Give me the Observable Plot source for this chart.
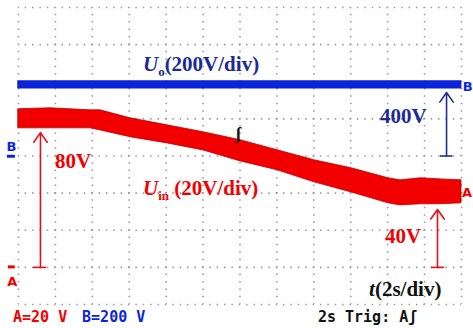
<!DOCTYPE html>
<html><head><meta charset="utf-8">
<script src="https://cdn.jsdelivr.net/npm/d3@7"></script>
<script src="https://cdn.jsdelivr.net/npm/@observablehq/plot@0.6"></script>
<style>body{margin:0;background:#fff}svg{display:block}</style>
</head><body><div id="chart"></div>
<script>
// Oscilloscope settings
const timeTicks = [0,2,4,6,8,10,12,14,16,18,20,22,24]; // seconds, 2 s/div
const divTicks = [0,1,2,3,4,5,6,7,8];                   // vertical divisions
const chAGround = 1;   // div (channel A, Uin)
const chBGround = 4;   // div (channel B, Uo)
const chAScale = 20;   // V/div
const chBScale = 200;  // V/div

// Channel A: Uin envelope (V)
const uinTime  = [0, 1.73, 3.9, 4.44, 6.07, 8.07, 10.02, 12.03, 14.03, 16.03, 18.04, 20.04, 20.69, 21.8, 22.9, 24];
const uinUpper = [85.2, 85.7, 84.6, 84.6, 80.3, 76.5, 72.8, 68.5, 63.1, 57.7, 53.4, 48.0, 46.9, 48.0, 47.4, 46.9];
const uinLower = [74.9, 74.9, 74.9, 73.8, 70.1, 66.8, 63.0, 57.1, 52.3, 45.8, 40.4, 34.5, 33.4, 34.0, 34.0, 34.5];

// Channel B: Uo envelope (V)
const uoTime  = [0, 24];
const uoUpper = [403, 403];
const uoLower = [363, 363];

const uin = uinTime.map((t,i) => ({t, hi: uinUpper[i]/chAScale + chAGround, lo: uinLower[i]/chAScale + chAGround}));
const uo  = uoTime.map((t,i) => ({t, hi: uoUpper[i]/chBScale + chBGround, lo: uoLower[i]/chBScale + chBGround}));

const RED = "#f20000", BLUE = "#0b24e0", NAVY = "#1b2a96";

const chart = Plot.plot({
  width: 473, height: 328,
  marginLeft: 18, marginRight: 12, marginTop: 7, marginBottom: 24,
  x: {domain: [0, 24], axis: null},
  y: {domain: [0, 8], axis: null},
  marks: [
    Plot.ruleX(timeTicks, {x: d => d, y1: 0, y2: 8, stroke: "#9a9a9a", strokeWidth: 1.6, strokeDasharray: "1.5 5.925", strokeDashoffset: 0.75}),
    Plot.ruleY(divTicks, {y: d => d, x1: 0, x2: 24, stroke: "#9a9a9a", strokeWidth: 1.6, strokeDasharray: "1.5 5.883", strokeDashoffset: 0.75}),
    Plot.areaY(uo, {x: "t", y1: "lo", y2: "hi", fill: BLUE, stroke: "#0a1fb8", strokeWidth: 0.8, curve: "linear"}),
    Plot.areaY(uin, {x: "t", y1: "lo", y2: "hi", fill: RED, stroke: "#b80000", strokeWidth: 0.8, curve: "linear"}),
    // annotation arrows
    Plot.arrow([{}], {x1: 1.19, x2: 1.19, y1: chAGround, y2: 4.63, stroke: "#e8101a", strokeWidth: 1.6, headLength: 11, headAngle: 70}),
    Plot.ruleY([chAGround], {x1: 0.81, x2: 1.52, stroke: "#e8101a", strokeWidth: 1.6}),
    Plot.arrow([{}], {x1: 22.7, x2: 22.7, y1: chAGround, y2: 2.56, stroke: "#e8101a", strokeWidth: 1.6, headLength: 11, headAngle: 70}),
    Plot.ruleY([chAGround], {x1: 22.37, x2: 23.08, stroke: "#e8101a", strokeWidth: 1.6}),
    Plot.arrow([{}], {x1: 23.19, x2: 23.19, y1: chBGround, y2: 5.71, stroke: "#1f3290", strokeWidth: 1.6, headLength: 11, headAngle: 70}),
    Plot.ruleY([chBGround], {x1: 22.86, x2: 23.53, stroke: "#1f3290", strokeWidth: 1.6})
  ]
});

const xs = chart.scale("x"), ys = chart.scale("y");
const svg = d3.select(chart);
const serif = "'Liberation Serif', 'Times New Roman', serif";
const mono = "'DejaVu Sans Mono', monospace";
const sans = "'DejaVu Sans', sans-serif";

function label(t, d, parts, opts) {
  const txt = svg.append("text")
    .attr("x", xs.apply(t)).attr("y", ys.apply(d))
    .attr("text-anchor", "start")
    .attr("font-family", opts.family || serif)
    .attr("font-size", opts.size || 21)
    .attr("font-weight", opts.weight || "bold")
    .attr("fill", opts.fill || "#000");
  for (const p of parts) {
    const ts = txt.append("tspan").text(p.s);
    if (p.italic) ts.attr("font-style", "italic");
    if (p.sub) ts.attr("font-size", p.size || 13).attr("dy", 5);
    if (p.up) ts.attr("dy", -5);
  }
  return txt;
}

// Channel labels
label(6.77, 6.28, [{s: "U", italic: true}, {s: "o", sub: true}, {s: "(200V/div)", up: true}], {fill: NAVY});
label(19.61, 4.88, [{s: "400V"}], {fill: NAVY});
label(2.0, 3.66, [{s: "80V"}], {fill: RED});
label(6.77, 2.94, [{s: "U", italic: true}, {s: "in", sub: true}, {s: " (20V/div)", up: true}], {fill: RED});
label(19.88, 1.64, [{s: "40V"}], {fill: RED});
label(19.02, 0.22, [{s: "t", italic: true}, {s: "(2s/div)"}], {fill: "#111"});

// Trigger marker
label(11.8, 4.44, [{s: "ʃ"}], {fill: "#111", size: 17});

// Channel ground / level markers
label(-0.62, 4.12, [{s: "B"}], {fill: BLUE, family: sans, size: 13});
svg.append("rect").attr("x", xs.apply(-0.6)).attr("y", ys.apply(4.02)).attr("width", 8).attr("height", 3).attr("fill", BLUE);
svg.append("rect").attr("x", xs.apply(-0.55)).attr("y", ys.apply(1.04)).attr("width", 7).attr("height", 3).attr("fill", RED);
label(-0.58, 0.49, [{s: "A"}], {fill: RED, family: sans, size: 13});
label(24.1, 5.74, [{s: "B"}], {fill: BLUE, family: sans, size: 13});
label(24.05, 2.88, [{s: "A"}], {fill: RED, family: sans, size: 13});

// Status line
label(-0.27, -0.49, [{s: "A=20 V"}], {fill: RED, family: mono, size: 15});
label(3.47, -0.49, [{s: "B=200 V"}], {fill: BLUE, family: mono, size: 15});
label(16.25, -0.49, [{s: "2s Trig: Aʃ"}], {fill: "#111", family: mono, size: 15});

document.getElementById("chart").append(chart);
</script>
</body></html>
